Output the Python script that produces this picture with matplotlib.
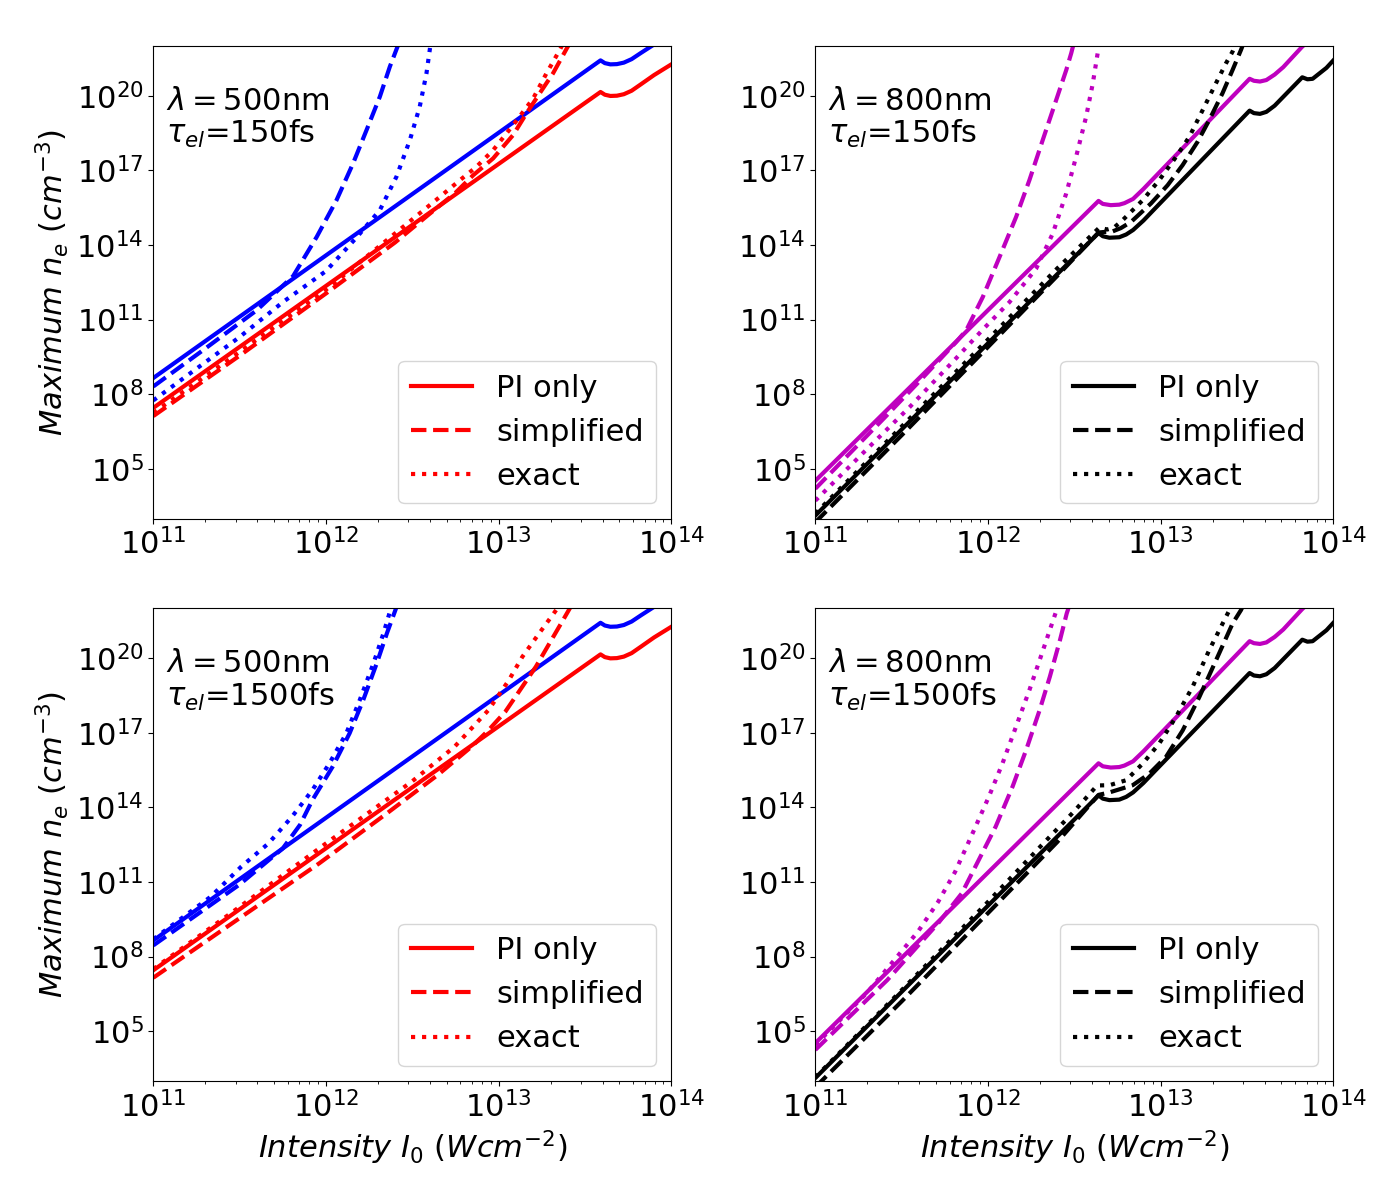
import numpy as np
import matplotlib
matplotlib.use('Agg')
import matplotlib.pyplot as plt

# values, stored as log10 of intensity / density

# PI only, 500 nm (same in both tau panels)
pi500_x = [11.0, 13.59, 13.615, 13.647, 13.685, 13.725, 13.77, 13.824, 13.9, 14.0]
pi500_red = [7.45, 20.15, 20.04, 19.99, 20.0, 20.06, 20.2, 20.46, 20.83, 21.26]
pi500_blue = [8.65, 21.42, 21.31, 21.26, 21.27, 21.33, 21.47, 21.72, 22.06, 22.5]

# PI only, 800 nm
pi800_mag_x = [11.0, 12.64, 12.665, 12.711, 12.76, 12.79, 12.84, 12.9, 12.965,
               13.515, 13.54, 13.575, 13.612, 13.66, 13.71, 13.818, 13.9]
pi800_mag = [4.52, 15.77, 15.65, 15.6, 15.62, 15.68, 15.85, 16.25, 16.72,
             20.68, 20.6, 20.57, 20.63, 20.85, 21.15, 21.96, 22.5]
pi800_blk_x = [11.0, 12.64, 12.665, 12.703, 12.76, 12.8, 12.84, 12.9, 12.965,
               13.515, 13.54, 13.575, 13.612, 13.66, 13.82, 13.85, 13.88,
               13.92, 13.96, 14.0]
pi800_blk = [3.12, 14.48, 14.35, 14.29, 14.31, 14.42, 14.6, 14.98, 15.45,
             19.4, 19.3, 19.27, 19.35, 19.6, 20.74, 20.66, 20.68,
             20.9, 21.12, 21.42]

# 500 nm, tau_el = 150 fs
a_red_dash_x = [11.0, 11.5, 12.0, 12.4, 12.6, 12.75, 12.852, 12.968, 13.084,
                13.161, 13.238, 13.315, 13.4, 13.43]
a_red_dash = [7.12, 9.55, 12.05, 14.1, 15.25, 16.1, 16.8, 17.48, 18.42,
              19.29, 20.1, 20.9, 21.97, 22.3]
a_red_dot_x = [11.0, 11.5, 12.0, 12.389, 12.659, 12.775, 12.871, 12.968,
               13.084, 13.2, 13.277, 13.354, 13.38]
a_red_dot = [7.25, 9.7, 12.2, 14.4, 15.93, 16.6, 17.14, 17.81,
             18.82, 19.89, 20.9, 21.84, 22.2]
a_blue_dash_x = [11.0, 11.3, 11.6, 11.81, 11.946, 12.061, 12.157, 12.235,
                 12.312, 12.37, 12.418, 12.44]
a_blue_dash = [8.31, 9.83, 11.38, 12.75, 14.32, 15.8, 17.28, 18.62,
               19.96, 21.17, 22.04, 22.5]
a_blue_dot_x = [11.0, 11.5, 11.75, 12.0, 12.177, 12.312, 12.408, 12.486,
                12.543, 12.582, 12.601, 12.61]
a_blue_dot = [7.75, 10.3, 11.7, 12.95, 14.3, 15.4, 16.74, 18.22,
              19.56, 20.9, 21.84, 22.3]

# 800 nm, tau_el = 150 fs
b_mag_dash_x = [11.0, 11.4, 11.6, 11.816, 11.874, 11.97, 12.067, 12.163,
                12.24, 12.317, 12.395, 12.453, 12.482, 12.5]
b_mag_dash = [4.2, 7.05, 8.5, 10.1, 10.57, 11.91, 13.52, 15.13,
              16.61, 18.22, 19.83, 21.03, 21.71, 22.2]
b_mag_dot_x = [11.0, 11.3, 11.546, 11.816, 11.97, 12.124, 12.279, 12.375,
               12.453, 12.51, 12.568, 12.607, 12.635, 12.65]
b_mag_dot = [3.72, 5.8, 7.48, 9.45, 10.6, 11.7, 13.05, 14.46,
             16.07, 17.54, 19.15, 20.5, 21.71, 22.3]
b_blk_dash_x = [11.0, 11.5, 12.0, 12.4, 12.64, 12.67, 12.72, 12.77, 12.829,
                12.944, 13.04, 13.127, 13.214, 13.281, 13.358, 13.416,
                13.465, 13.49]
b_blk_dash = [2.85, 6.35, 9.9, 12.75, 14.5, 14.52, 14.54, 14.68, 14.93,
              15.67, 16.4, 17.21, 18.15, 19.02, 20.1, 21.03,
              21.84, 22.3]
b_blk_dot_x = [11.0, 11.5, 12.0, 12.4, 12.645, 12.69, 12.73, 12.78, 12.896,
               12.992, 13.089, 13.166, 13.243, 13.32, 13.378, 13.416, 13.44]
b_blk_dot = [3.2, 6.7, 10.2, 13.05, 14.7, 14.62, 14.7, 15.0, 15.8,
             16.61, 17.54, 18.35, 19.42, 20.5, 21.3, 21.77, 22.2]

# 500 nm, tau_el = 1500 fs
c_red_dash_x = [11.0, 11.373, 11.961, 12.353, 12.647, 12.843, 12.941, 13.039,
                13.137, 13.216, 13.294, 13.373, 13.412, 13.43]
c_red_dash = [7.15, 8.94, 11.75, 13.76, 15.3, 16.44, 17.1, 17.85,
              18.85, 19.66, 20.59, 21.53, 22.0, 22.3]
c_red_dot_x = [11.0, 11.5, 12.0, 12.5, 12.745, 12.941, 13.059, 13.137,
               13.235, 13.333, 13.36]
c_red_dot = [7.5, 10.0, 12.55, 15.05, 16.44, 17.91, 19.11, 20.05,
             21.0, 21.93, 22.3]
c_blue_dash_x = [11.0, 11.5, 11.75, 11.85, 11.922, 12.039, 12.137, 12.216,
                 12.294, 12.353, 12.402, 12.43]
c_blue_dash = [8.45, 10.9, 12.35, 13.3, 14.3, 15.64, 16.98, 18.32,
               19.79, 21.0, 21.93, 22.5]
c_blue_dot_x = [11.0, 11.333, 11.51, 11.667, 11.804, 11.922, 12.02, 12.118,
                12.196, 12.275, 12.333, 12.373, 12.39]
c_blue_dot = [8.7, 10.41, 11.62, 12.55, 13.63, 14.7, 15.77, 16.98,
              18.32, 19.79, 21.0, 21.93, 22.4]

# 800 nm, tau_el = 1500 fs
d_mag_dash_x = [11.0, 11.417, 11.711, 11.848, 11.946, 12.044, 12.142, 12.221,
                12.299, 12.358, 12.417, 12.456, 12.485]
d_mag_dash = [4.25, 7.06, 9.34, 10.54, 11.88, 13.22, 14.83, 16.31,
              17.91, 19.25, 20.73, 21.8, 22.4]
d_mag_dot_x = [11.0, 11.3, 11.594, 11.711, 11.809, 11.907, 12.005, 12.084,
               12.162, 12.24, 12.299, 12.358, 12.397, 12.42]
d_mag_dot = [4.45, 6.55, 9.0, 10.2, 11.4, 12.9, 14.43, 15.77,
             17.24, 18.72, 19.92, 21.13, 21.93, 22.4]
d_blk_dash_x = [11.0, 11.5, 12.0, 12.4, 12.64, 12.703, 12.838, 12.935, 13.031,
                13.128, 13.224, 13.321, 13.417, 13.465, 13.49]
d_blk_dash = [2.75, 6.2, 9.75, 12.6, 14.5, 14.6, 14.89, 15.36, 16.03,
              17.1, 18.44, 19.92, 21.4, 21.93, 22.3]
d_blk_dot_x = [11.0, 11.5, 12.0, 12.3, 12.5, 12.632, 12.703, 12.8, 12.896,
               12.992, 13.089, 13.185, 13.281, 13.398, 13.42]
d_blk_dot = [3.15, 6.65, 10.2, 12.4, 13.85, 14.88, 14.89, 15.09, 15.76,
             16.57, 17.64, 18.85, 20.32, 21.93, 22.3]

labels = ['PI only', 'simplified', 'exact']
fs = 22

panels = [
    # (wavelength, tau, colour with legend, other colour, curves)
    (500, 150, 'r', 'b',
     [(pi500_x, pi500_red, pi500_x, pi500_blue),
      (a_red_dash_x, a_red_dash, a_blue_dash_x, a_blue_dash),
      (a_red_dot_x, a_red_dot, a_blue_dot_x, a_blue_dot)]),
    (800, 150, 'k', 'm',
     [(pi800_blk_x, pi800_blk, pi800_mag_x, pi800_mag),
      (b_blk_dash_x, b_blk_dash, b_mag_dash_x, b_mag_dash),
      (b_blk_dot_x, b_blk_dot, b_mag_dot_x, b_mag_dot)]),
    (500, 1500, 'r', 'b',
     [(pi500_x, pi500_red, pi500_x, pi500_blue),
      (c_red_dash_x, c_red_dash, c_blue_dash_x, c_blue_dash),
      (c_red_dot_x, c_red_dot, c_blue_dot_x, c_blue_dot)]),
    (800, 1500, 'k', 'm',
     [(pi800_blk_x, pi800_blk, pi800_mag_x, pi800_mag),
      (d_blk_dash_x, d_blk_dash, d_mag_dash_x, d_mag_dash),
      (d_blk_dot_x, d_blk_dot, d_mag_dot_x, d_mag_dot)]),
]
styles = ['-', '--', ':']

fig, axes = plt.subplots(2, 2, figsize=(14, 12), dpi=100)
fig.subplots_adjust(left=0.1095, right=0.9524, top=0.9617, bottom=0.0992,
                    wspace=0.278, hspace=0.19)

for ax, (lam, tau, c1, c2, curves) in zip(axes.flat, panels):
    # other colour first, legend colour on top
    for (x1, y1, x2, y2), ls in zip(curves, styles):
        ax.plot(10**np.array(x2), 10**np.array(y2), color=c2, ls=ls, lw=3)
    for (x1, y1, x2, y2), ls, lab in zip(curves, styles, labels):
        ax.plot(10**np.array(x1), 10**np.array(y1), color=c1, ls=ls, lw=3,
                label=lab)
    ax.set_xscale('log')
    ax.set_yscale('log')
    ax.set_xlim(1e11, 1e14)
    ax.set_ylim(1e3, 1e22)
    ax.set_yticks([1e5, 1e8, 1e11, 1e14, 1e17, 1e20])
    ax.yaxis.set_minor_locator(matplotlib.ticker.NullLocator())
    ax.tick_params(labelsize=fs)
    ax.text(0.025, 0.8645, r'$\lambda=%d$nm' % lam, transform=ax.transAxes,
            fontsize=fs, va='baseline')
    ax.text(0.025, 0.794, r'$\tau_{el}$=%dfs' % tau, transform=ax.transAxes,
            fontsize=fs, va='baseline')
    ax.legend(loc='lower right', fontsize=fs)

for ax in axes[:, 0]:
    ax.set_ylabel(r'$Maximum\ n_e\ (cm^{-3})$', fontsize=fs)
for ax in axes[1, :]:
    ax.set_xlabel(r'$Intensity\ I_0\ (Wcm^{-2})$', fontsize=fs)

fig.savefig('out.png', dpi=100)
